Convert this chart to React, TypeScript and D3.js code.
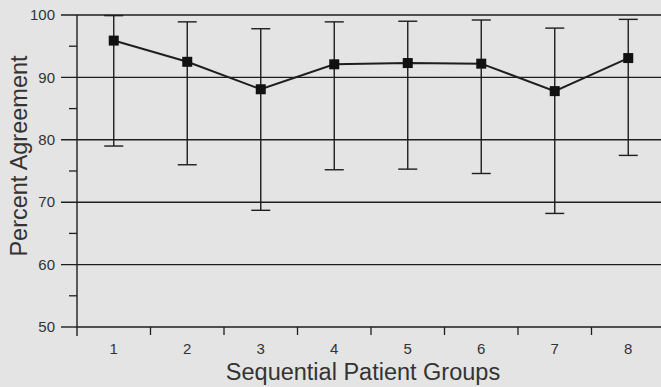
import { useEffect, useRef } from "react";
import * as d3 from "d3";

// values
const groups = [1, 2, 3, 4, 5, 6, 7, 8];
const means = [95.9, 92.5, 88.1, 92.1, 92.3, 92.2, 87.8, 93.1];
const upper = [99.9, 98.9, 97.8, 98.9, 99.0, 99.2, 97.9, 99.3];
const lower = [79.0, 76.0, 68.7, 75.2, 75.3, 74.6, 68.2, 77.5];
const yTicks = [50, 60, 70, 80, 90, 100];
const yMinorTicks = [55, 65, 75, 85, 95];
const xBoundaryTicks = [0.5, 1.5, 2.5, 3.5, 4.5, 5.5, 6.5, 7.5];

const width = 661;
const height = 387;

export default function App() {
  const svgRef = useRef<SVGSVGElement>(null);

  useEffect(() => {
    const svg = d3.select(svgRef.current);
    svg.selectAll("*").remove();

    const ink = "#1e1e1e";
    const font = "'Liberation Sans', Arial, sans-serif";

    const x = d3.scaleLinear().domain([0.5, 8.5]).range([77, 665]);
    const y = d3.scaleLinear().domain([50, 100]).range([327, 15]);

    const data = groups.map((g, i) => ({
      g,
      mean: means[i],
      hi: upper[i],
      lo: lower[i],
    }));

    // scanned paper background
    svg
      .append("rect")
      .attr("width", width)
      .attr("height", height)
      .attr("fill", "#e4e4e4");

    // horizontal grid (also the major y ticks)
    svg
      .append("g")
      .selectAll("line")
      .data(yTicks.filter((d) => d > 50))
      .enter()
      .append("line")
      .attr("x1", 61)
      .attr("x2", width)
      .attr("y1", (d) => y(d))
      .attr("y2", (d) => y(d))
      .attr("stroke", ink)
      .attr("stroke-width", 1.4);

    // y axis with minor ticks
    const yAxis = svg.append("g").attr("transform", `translate(${x(0.5)},0)`);
    yAxis
      .append("line")
      .attr("y1", y(100))
      .attr("y2", y(50) + 9)
      .attr("stroke", ink)
      .attr("stroke-width", 1.4);
    yAxis
      .selectAll(".minor")
      .data(yMinorTicks)
      .enter()
      .append("line")
      .attr("x1", -8)
      .attr("x2", 0)
      .attr("y1", (d) => y(d))
      .attr("y2", (d) => y(d))
      .attr("stroke", ink)
      .attr("stroke-width", 1.3);
    yAxis
      .append("line")
      .attr("x1", -16)
      .attr("x2", 0)
      .attr("y1", y(50))
      .attr("y2", y(50))
      .attr("stroke", ink)
      .attr("stroke-width", 1.4);
    yAxis
      .selectAll(".lab")
      .data(yTicks)
      .enter()
      .append("text")
      .attr("x", -22)
      .attr("y", (d) => y(d))
      .attr("dy", "0.35em")
      .attr("text-anchor", "end")
      .attr("font-family", font)
      .attr("font-size", 15)
      .attr("fill", "#333")
      .text((d) => d);

    // x axis: ticks sit between groups
    const xAxis = svg.append("g").attr("transform", `translate(0,${y(50)})`);
    xAxis
      .append("line")
      .attr("x1", x(0.5))
      .attr("x2", width)
      .attr("stroke", ink)
      .attr("stroke-width", 1.4);
    xAxis
      .selectAll(".tick")
      .data(xBoundaryTicks.slice(1))
      .enter()
      .append("line")
      .attr("x1", (d) => x(d))
      .attr("x2", (d) => x(d))
      .attr("y1", 0)
      .attr("y2", 8)
      .attr("stroke", ink)
      .attr("stroke-width", 1.3);
    xAxis
      .selectAll(".lab")
      .data(groups)
      .enter()
      .append("text")
      .attr("x", (d) => x(d))
      .attr("y", 27)
      .attr("text-anchor", "middle")
      .attr("font-family", font)
      .attr("font-size", 15)
      .attr("fill", "#333")
      .text((d) => d);

    // error bars
    const bars = svg.append("g").attr("stroke", ink).attr("stroke-width", 1.4);
    bars
      .selectAll(".stem")
      .data(data)
      .enter()
      .append("line")
      .attr("x1", (d) => x(d.g))
      .attr("x2", (d) => x(d.g))
      .attr("y1", (d) => y(d.hi))
      .attr("y2", (d) => y(d.lo));
    bars
      .selectAll(".capHi")
      .data(data)
      .enter()
      .append("line")
      .attr("x1", (d) => x(d.g) - 9.5)
      .attr("x2", (d) => x(d.g) + 9.5)
      .attr("y1", (d) => y(d.hi))
      .attr("y2", (d) => y(d.hi));
    bars
      .selectAll(".capLo")
      .data(data)
      .enter()
      .append("line")
      .attr("x1", (d) => x(d.g) - 9.5)
      .attr("x2", (d) => x(d.g) + 9.5)
      .attr("y1", (d) => y(d.lo))
      .attr("y2", (d) => y(d.lo));

    // mean line
    const line = d3
      .line<{ g: number; mean: number }>()
      .x((d) => x(d.g))
      .y((d) => y(d.mean));
    svg
      .append("path")
      .datum(data)
      .attr("fill", "none")
      .attr("stroke", ink)
      .attr("stroke-width", 2)
      .attr("d", line);

    // square markers
    svg
      .selectAll(".pt")
      .data(data)
      .enter()
      .append("rect")
      .attr("x", (d) => x(d.g) - 5)
      .attr("y", (d) => y(d.mean) - 5)
      .attr("width", 10)
      .attr("height", 10)
      .attr("fill", "#111");

    // axis titles
    svg
      .append("text")
      .attr("transform", `translate(27,156) rotate(-90)`)
      .attr("text-anchor", "middle")
      .attr("font-family", font)
      .attr("font-size", 23.5)
      .attr("fill", "#333")
      .text("Percent Agreement");

    svg
      .append("text")
      .attr("x", 363)
      .attr("y", 380)
      .attr("text-anchor", "middle")
      .attr("font-family", font)
      .attr("font-size", 23.5)
      .attr("fill", "#333")
      .text("Sequential Patient Groups");
  }, []);

  return (
    <svg
      ref={svgRef}
      width={width}
      height={height}
      style={{ position: "absolute", left: 0, top: 0 }}
    ></svg>
  );
}
